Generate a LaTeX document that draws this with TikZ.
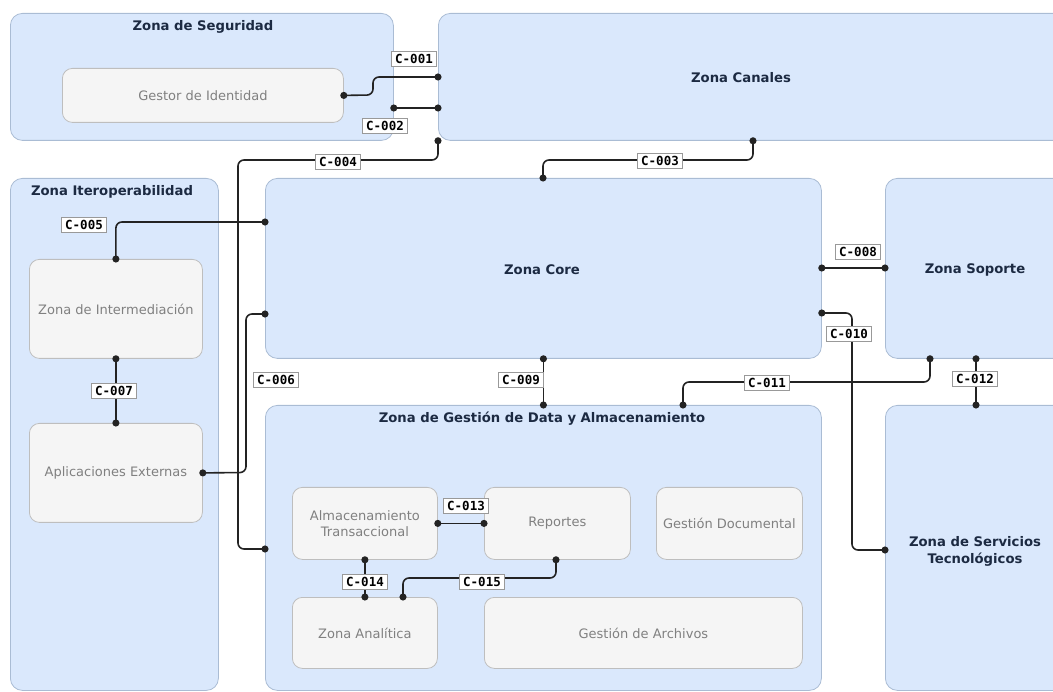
\documentclass[tikz,border=0pt]{standalone}
\usepackage{fontspec}
\setmainfont{DejaVu Sans}
\newfontfamily\tagfont{DejaVu Sans Mono}
\usetikzlibrary{arrows.meta}

\definecolor{zonefill}{RGB}{218,232,252}
\definecolor{zoneline}{RGB}{170,188,212}
\definecolor{boxfill}{RGB}{245,245,245}
\definecolor{boxline}{RGB}{190,190,190}
\definecolor{boxtext}{RGB}{128,128,128}
\definecolor{titletext}{RGB}{28,42,66}
\definecolor{wirecol}{RGB}{35,35,35}

\tikzset{
  zone/.style={draw=zoneline, fill=zonefill, line width=0.8pt, rounded corners=12pt,
    inner sep=0pt, anchor=north west},
  part/.style={draw=boxline, fill=boxfill, line width=0.8pt, rounded corners=10pt,
    inner sep=0pt, anchor=north west, text=boxtext, align=center,
    font=\fontsize{13}{16}\selectfont},
  ztitle/.style={text=titletext, inner sep=0pt, align=center,
    font=\fontsize{13.2}{17}\selectfont\bfseries},
  wire/.style={draw=wirecol, line width=1.6pt, rounded corners=6pt,
    {Circle[length=7pt]}-{Circle[length=7pt]},
    shorten <=-3.5pt, shorten >=-3.5pt},
  tag/.style={draw=gray!80, fill=white, line width=0.7pt, text=black,
    inner xsep=3.5pt, inner ysep=2.5pt,
    font=\tagfont\bfseries\fontsize{12.5}{13}\selectfont}
}

\begin{document}
\begin{tikzpicture}[x=1pt, y=-1pt]
\useasboundingbox (0,0) rectangle (1053,692);
\clip (0,0) rectangle (1053,692);

% zones
\node[zone, minimum width=383pt, minimum height=127pt] (seg)     at (10,13)   {};
\node[zone, minimum width=630pt, minimum height=127pt] (canales) at (438,13)  {};
\node[zone, minimum width=208pt, minimum height=512pt] (iter)    at (10,178)  {};
\node[zone, minimum width=556pt, minimum height=180pt] (core)    at (265,178) {};
\node[zone, minimum width=185pt, minimum height=180pt] (soporte) at (885,178) {};
\node[zone, minimum width=556pt, minimum height=285pt] (data)    at (265,405) {};
\node[zone, minimum width=185pt, minimum height=285pt] (serv)    at (885,405) {};

% zone titles
\node[ztitle] (tseg)  at (203,27)  {Zona de Seguridad};
\node[ztitle] (tcan)  at (741,78)  {Zona Canales};
\node[ztitle] (titer) at (112,192) {Zona Iteroperabilidad};
\node[ztitle] (tcore) at (542,270) {Zona Core};
\node[ztitle] (tsop)  at (975,270) {Zona Soporte};
\node[ztitle] (tdata) at (542,419) {Zona de Gestión de Data y Almacenamiento};
\node[ztitle] (tserv) at (975,551) {Zona de Servicios\\Tecnológicos};

% components
\node[part, minimum width=281pt, minimum height=54pt] (gestor)    at (62,68)   {Gestor de Identidad};
\node[part, minimum width=173pt, minimum height=99pt] (interm)    at (29,259)  {Zona de Intermediación};
\node[part, minimum width=173pt, minimum height=99pt] (apps)      at (29,423)  {Aplicaciones Externas};
\node[part, minimum width=145pt, minimum height=72pt] (almac)     at (292,487) {Almacenamiento\\Transaccional};
\node[part, minimum width=146pt, minimum height=72pt] (reportes)  at (484,487) {Reportes};
\node[part, minimum width=146pt, minimum height=72pt] (gdoc)      at (656,487) {Gestión Documental};
\node[part, minimum width=145pt, minimum height=71pt] (analitica) at (292,597) {Zona Analítica};
\node[part, minimum width=318pt, minimum height=71pt] (garch)     at (484,597) {Gestión de Archivos};

% connectors
\draw[wire] (gestor.east) -- (373,95) -- (373,77) -- (canales.west |- 0,77);
\draw[wire] (seg.east |- 0,108) -- (canales.west |- 0,108);
\draw[wire] (canales.south -| 753,0) -- (753,160) -- (543,160) -- (core.north -| 543,0);
\draw[wire] (canales.south west) -- (438,160) -- (238,160) -- (238,549) -- (data.west |- 0,549);
\draw[wire] (core.west |- 0,222) -- (interm.north |- 0,222) -- (interm.north);
\draw[wire] (apps.east) -- (246,472.5) -- (246,314) -- (core.west |- 0,314);
\draw[wire] (interm.south) -- (apps.north);
\draw[wire] (core.east |- 0,268) -- (soporte.west |- 0,268);
\draw[wire] (core.south) -- (data.north);
\draw[wire] (core.east |- 0,313) -- (852,313) -- (852,550) -- (serv.west |- 0,550);
\draw[wire] (soporte.south -| 930,0) -- (930,382) -- (683,382) -- (data.north -| 683,0);
\draw[wire] (soporte.south -| 976,0) -- (serv.north -| 976,0);
\draw[wire] (almac.east) -- (reportes.west);
\draw[wire] (almac.south) -- (analitica.north);
\draw[wire] (reportes.south -| 556,0) -- (556,578) -- (403,578) -- (analitica.north -| 403,0);

% connector tags
\node[tag] (c1)  at (414,59)  {C-001};
\node[tag] (c2)  at (385,126) {C-002};
\node[tag] (c3)  at (660,161) {C-003};
\node[tag] (c4)  at (338,162) {C-004};
\node[tag] (c5)  at (84,225)  {C-005};
\node[tag] (c6)  at (276,380) {C-006};
\node[tag] (c7)  at (114,391) {C-007};
\node[tag] (c8)  at (858,252) {C-008};
\node[tag] (c9)  at (521,380) {C-009};
\node[tag] (c10) at (849,334) {C-010};
\node[tag] (c11) at (767,383) {C-011};
\node[tag] (c12) at (975,379) {C-012};
\node[tag] (c13) at (466,506) {C-013};
\node[tag] (c14) at (365,582) {C-014};
\node[tag] (c15) at (482,582) {C-015};
\end{tikzpicture}
\end{document}
